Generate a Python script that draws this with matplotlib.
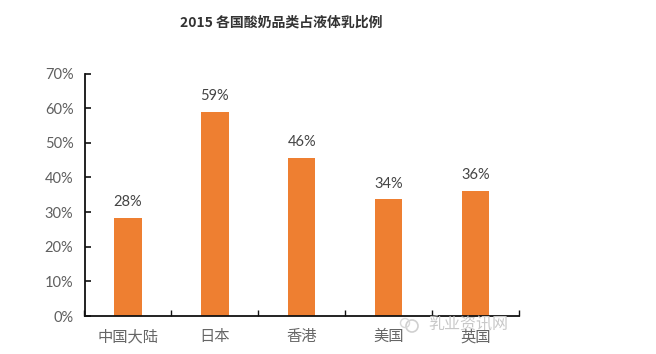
import matplotlib
matplotlib.use('Agg')
import matplotlib.pyplot as plt
from matplotlib.patches import Ellipse

plt.rcParams['font.family'] = ['Noto Sans CJK SC', 'DejaVu Sans']

categories = ['中国大陆', '日本', '香港', '美国', '英国']
values = [28.3, 59, 45.7, 33.8, 36]
value_labels = ['28%', '59%', '46%', '34%', '36%']
label_offsets = [2.6, 2.6, 2.6, 2.2, 2.6]
yticks = [0, 10, 20, 30, 40, 50, 60, 70]

W, H = 656, 354
fig = plt.figure(figsize=(W / 100, H / 100), dpi=100, facecolor='white')
ax = fig.add_axes([84.5 / W, 1 - 316 / H, (519 - 84.5) / W, (316 - 73.5) / H])

x = list(range(len(categories)))
ax.bar(x, values, width=0.315, color='#EE7F31', zorder=2)
ax.set_xlim(-0.5, 4.5)
ax.set_ylim(0, 70)
ax.set_yticks(yticks)
ax.set_yticklabels([f'{v}%' for v in yticks], fontsize=10.5, color='#5f5f5f',
                   family=['Lato', 'DejaVu Sans'])
ax.set_xticks([i + 0.5 for i in range(-1, 5)])
ax.set_xticklabels([])
ax.tick_params(axis='y', direction='in', length=4, width=1.2, pad=8, color='#111111')
ax.tick_params(axis='x', direction='in', length=4, width=1.0, color='#111111')
for s in ('top', 'right'):
    ax.spines[s].set_visible(False)
for s in ('left', 'bottom'):
    ax.spines[s].set_linewidth(1.3)
    ax.spines[s].set_color('#111111')

for xi, v, lab, off in zip(x, values, value_labels, label_offsets):
    ax.text(xi, v + off, lab, ha='center', va='bottom', fontsize=10.5, color='#444444',
            family=['Lato', 'DejaVu Sans'])

for xi, c in zip(x, categories):
    ax.annotate(c, (xi, 0), xytext=(0, -15), textcoords='offset points', ha='center', va='center',
                fontsize=11, color='#666666', annotation_clip=False, zorder=3)

fig.text(281 / W, 1 - 23 / H, '2015 各国酸奶品类占液体乳比例', ha='center', va='center',
         fontsize=10, fontweight='bold', color='#333333')
fig.text(468 / W, 1 - 325 / H, '乳业资讯网', ha='center', va='center', fontsize=11.5, color='#C8C8C8')
fig.add_artist(Ellipse((412 / W, 1 - 326 / H), 12 / W, 12 / H, transform=fig.transFigure,
                       fill=False, ec='#D0D0D0', lw=1.2))
fig.add_artist(Ellipse((405 / W, 1 - 323 / H), 9 / W, 9 / H, transform=fig.transFigure,
                       fill=False, ec='#D8D8D8', lw=1.0))
fig.savefig('out.png', dpi=100)
